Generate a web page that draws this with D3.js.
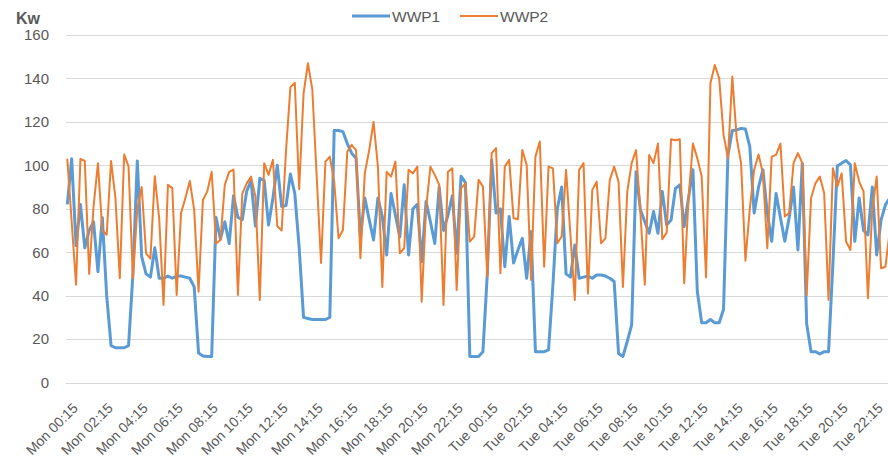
<!DOCTYPE html>
<meta charset="utf-8">
<style>
body { margin: 0; background: #fff; }
svg { display: block; overflow: hidden; font-family: "Liberation Sans", Arial, sans-serif; }
.grid line { stroke: #d9d9d9; stroke-width: 1; }
.axis text { fill: #595959; }
</style>
<body>
<svg width="888" height="461"></svg>
<script src="https://d3js.org/d3.v7.min.js"></script>
<script>
// categories: every 15 minutes, Mon 00:15 .. Wed 00:00 (192 points)
var days = ["Mon", "Tue"];
var yTicks = [0, 20, 40, 60, 80, 100, 120, 140, 160];
var seriesNames = ["WWP1", "WWP2"];

var times = [];
days.forEach(function(day) {
  for (var m = 15; m <= 24 * 60; m += 15) {
    var h = Math.floor(m / 60) % 24, mm = m % 60;
    times.push(day + " " + (h < 10 ? "0" : "") + h + ":" + (mm < 10 ? "0" : "") + mm);
  }
});

var wwp1 = [
  82, 103, 63, 82, 62, 70, 74, 51, 76, 40, 17, 16, 16, 16, 17, 50,
  102, 58, 50, 48.5, 62, 48, 48, 49, 48, 49, 49, 48.5, 48, 44, 13.6, 12.2,
  12, 12, 76, 66, 74, 64, 86, 76, 75, 88, 93, 72, 94, 93, 72.5, 85,
  100, 81, 81.5, 96, 87, 62, 30, 29.5, 29, 29, 29, 29, 30, 116, 116, 115.5,
  110, 105.6, 103.3, 67, 85, 75, 65.6, 85, 76.4, 58.7, 87, 77, 67, 91, 58.7, 80,
  82, 55.6, 83.3, 74, 64, 90, 70, 77, 86, 59.5, 95, 92, 12, 12, 12, 14.2,
  50, 102.5, 78, 80, 53.3, 76.4, 55, 61, 66.4, 48, 69.5, 14.2, 14.2, 14.2, 15, 45,
  80, 90, 50, 48.5, 63.3, 48, 48.5, 49, 48, 49.5, 49.5, 49, 48, 46.5, 13.4, 12,
  19, 26.5, 97, 79.5, 74, 68.7, 78.7, 68.7, 88, 72.5, 74.8, 89.4, 91, 71.8, 85, 98,
  42, 27.5, 27.5, 29, 27.5, 27.5, 33.7, 104.8, 116, 116.3, 117, 116.7, 108.6, 78, 90, 98,
  78, 65, 87, 76, 65, 76, 90, 61, 101, 27, 14.2, 14.2, 13.1, 14.2, 14.2, 55,
  99.7, 101, 102.2, 100.2, 65, 85, 70, 68, 90, 58.7, 74.8, 81.8, 85, 60, 80, 75
];

var wwp2 = [
  103, 74, 45, 103, 102, 50, 81, 101, 70, 68, 102, 85, 48, 105, 99.4, 48,
  80, 90, 59.5, 57, 95, 75.6, 35.7, 91, 89.5, 40.3, 78, 85, 92.8, 79.5, 41.8, 84,
  88, 97, 64, 65.6, 91, 97, 98, 40.3, 87, 91.7, 94.8, 85.6, 38, 101, 95.6, 102.5,
  72, 70, 107, 136, 138, 89, 133, 147, 135, 95, 55, 101.7, 104, 92.5, 66.4, 70.2,
  106.3, 109.4, 107, 57.2, 96.3, 107, 120, 99.4, 44, 97, 94.8, 101.7, 59.5, 61.8, 97.9, 96.3,
  99.4, 37.2, 80, 99.4, 95.6, 91, 35.7, 97, 98.6, 42.6, 89.4, 91.7, 64.9, 67.2, 93.3, 90.2,
  48.7, 105.6, 107.9, 50.3, 99.4, 102.5, 75.6, 75.2, 107.1, 100.2, 47.2, 104, 111, 53.3, 99.4, 98.6,
  64.1, 67.2, 97.9, 68, 38, 97.9, 101, 41, 88.7, 92.5, 64.1, 66.4, 93.3, 99.4, 92.5, 44,
  88, 101, 107, 78, 45, 104.8, 101, 110, 66, 69, 112, 111.5, 112, 45.7, 85, 110,
  103.3, 95, 48.4, 137.8, 146.2, 140, 114, 103.3, 140.9, 112.5, 101, 56.1, 80, 98, 105, 96.3,
  61.8, 104, 104.8, 110, 76.4, 78, 101, 105.6, 101, 40.3, 84.8, 91.7, 94.8, 87.1, 38, 98.6,
  90.2, 96.3, 64.9, 61, 101, 92.5, 87.9, 38.8, 80, 94.8, 52.6, 53.3, 70, 95, 60, 85
];

var colors = ["#5b9bd5", "#ed7d31"];
var widths = [3, 2];

var svg = d3.select("svg");

var x = d3.scalePoint()
  .domain(times)
  .range([67.3, 67.3 + 4.375 * (times.length - 1)]);

var y = d3.scaleLinear()
  .domain([0, 160])
  .range([382.5, 35]);

// gridlines
svg.append("g").attr("class", "grid")
  .selectAll("line")
  .data(yTicks)
  .enter().append("line")
  .attr("x1", 66).attr("x2", 888)
  .attr("y1", function(d) { return Math.round(y(d)) + 0.5; })
  .attr("y2", function(d) { return Math.round(y(d)) + 0.5; });

// y axis labels
var yAxis = d3.axisLeft(y).tickValues(yTicks).tickSize(0).tickPadding(0);
svg.append("g").attr("class", "axis")
  .attr("transform", "translate(49,0)")
  .call(yAxis)
  .call(function(g) { g.select(".domain").remove(); })
  .selectAll("text")
  .attr("font-size", 15)
  .attr("font-family", "Liberation Sans, Arial, sans-serif");

// x axis labels
var xAxis = d3.axisBottom(x)
  .tickValues(times.filter(function(d, i) { return i % 8 === 0; }))
  .tickSize(0);
var xg = svg.append("g").attr("class", "axis")
  .attr("transform", "translate(0,0)")
  .call(xAxis);
xg.select(".domain").remove();
xg.selectAll("text")
  .attr("font-size", 14)
  .attr("font-family", "Liberation Sans, Arial, sans-serif")
  .attr("text-anchor", "end")
  .attr("dy", null)
  .attr("y", null)
  .attr("transform", "translate(11,409) rotate(-45)");

// unit label
svg.append("text")
  .attr("x", 16).attr("y", 24)
  .attr("font-size", 16).attr("font-weight", "bold")
  .attr("fill", "#595959")
  .text("Kw");

// lines
var line = d3.line()
  .x(function(d, i) { return x(times[i]); })
  .y(function(d) { return y(d); });

[wwp1, wwp2].forEach(function(s, k) {
  svg.append("path")
    .datum(s)
    .attr("fill", "none")
    .attr("stroke", colors[k])
    .attr("stroke-width", widths[k])
    .attr("stroke-linejoin", "round")
    .attr("d", line);
});

// legend
var legend = svg.append("g");
var legendX = [352, 460];
seriesNames.forEach(function(name, k) {
  legend.append("line")
    .attr("x1", legendX[k]).attr("x2", legendX[k] + 38)
    .attr("y1", 16).attr("y2", 16)
    .attr("stroke", colors[k])
    .attr("stroke-width", widths[k]);
  legend.append("text")
    .attr("x", legendX[k] + 40).attr("y", 21.5)
    .attr("font-size", 15.5)
    .attr("fill", "#595959")
    .text(name);
});
</script>
</body>
